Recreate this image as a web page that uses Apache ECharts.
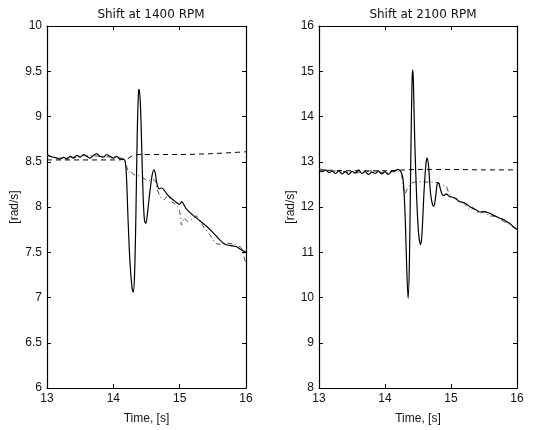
<!DOCTYPE html>
<html><head><meta charset="utf-8">
<script src="https://cdn.jsdelivr.net/npm/echarts@6/dist/echarts.min.js"></script>
<style>html,body{margin:0;padding:0;background:#fff}#c{width:533px;height:430px}</style>
</head><body><div id="c"></div>
<script>
// ---- data (time [s], speed [rad/s]) ----
const titles = ['Shift at 1400 RPM', 'Shift at 2100 RPM'];
const xTicks = [13, 14, 15, 16];
const leftYRange = [6, 10, 0.5];
const rightYRange = [8, 16, 1];

const leftSolid = [
 [13.00,8.58],[13.05,8.56],[13.10,8.55],[13.15,8.54],[13.20,8.53],[13.25,8.55],[13.30,8.53],[13.35,8.56],
 [13.40,8.54],[13.45,8.57],[13.50,8.55],[13.55,8.58],[13.60,8.56],[13.65,8.54],[13.70,8.57],[13.75,8.59],
 [13.80,8.56],[13.85,8.55],[13.90,8.58],[13.95,8.56],[14.00,8.54],[14.05,8.56],[14.10,8.53],[14.15,8.53],
 [14.18,8.50],[14.20,8.30],[14.22,7.90],[14.25,7.40],[14.28,7.12],[14.30,7.06],[14.32,7.25],[14.34,7.90],
 [14.36,8.80],[14.38,9.28],[14.39,9.30],[14.41,9.10],[14.43,8.60],[14.45,8.10],[14.47,7.85],[14.49,7.82],
 [14.51,7.90],[14.54,8.10],[14.58,8.33],[14.61,8.41],[14.63,8.38],[14.66,8.25],[14.69,8.20],[14.72,8.21],
 [14.75,8.20],[14.80,8.15],[14.85,8.11],[14.90,8.08],[14.95,8.05],[15.00,8.03],[15.03,8.06],[15.06,8.03],
 [15.10,7.98],[15.20,7.91],[15.30,7.85],[15.40,7.79],[15.50,7.72],[15.60,7.64],[15.66,7.60],[15.72,7.58],
 [15.80,7.57],[15.86,7.56],[15.92,7.53],[16.00,7.50]
];
const leftDashed = [
 [13.00,8.52],[13.50,8.52],[14.00,8.52],[14.20,8.53],[14.30,8.57],[14.40,8.58],[15.00,8.58],[15.50,8.59],[16.00,8.61]
];
const leftDashDot = [
 [13.00,8.57],[13.20,8.54],[13.40,8.55],[13.60,8.57],[13.80,8.56],[14.00,8.55],[14.15,8.53],[14.20,8.45],
 [14.23,8.38],[14.26,8.40],[14.30,8.36],[14.40,8.34],[14.50,8.30],[14.55,8.29],[14.62,8.30],[14.66,8.20],
 [14.72,8.10],[14.76,8.08],[14.82,8.12],[14.88,8.06],[14.95,8.02],[15.00,7.95],[15.03,7.80],[15.07,7.88],
 [15.12,7.84],[15.18,7.86],[15.25,7.90],[15.30,7.85],[15.38,7.76],[15.45,7.70],[15.52,7.62],[15.58,7.59],
 [15.65,7.59],[15.72,7.60],[15.80,7.59],[15.88,7.57],[15.93,7.55],[15.97,7.45],[16.00,7.37]
];

const rightSolid = [
 [13.00,12.80],[13.05,12.78],[13.10,12.82],[13.15,12.76],[13.20,12.79],[13.25,12.74],[13.30,12.80],[13.35,12.73],
 [13.40,12.78],[13.45,12.72],[13.50,12.79],[13.55,12.75],[13.60,12.82],[13.65,12.74],[13.70,12.78],[13.75,12.72],
 [13.80,12.77],[13.85,12.74],[13.90,12.80],[13.95,12.73],[14.00,12.78],[14.05,12.72],[14.10,12.79],[14.15,12.80],
 [14.20,12.83],[14.24,12.78],[14.27,12.65],[14.29,12.30],[14.31,11.60],[14.33,10.60],[14.35,9.98],[14.37,10.80],
 [14.39,13.00],[14.41,14.80],[14.42,15.03],[14.43,14.80],[14.45,13.50],[14.48,12.20],[14.51,11.40],[14.54,11.17],
 [14.56,11.40],[14.59,12.30],[14.62,12.95],[14.64,13.08],[14.66,12.90],[14.69,12.30],[14.72,12.05],[14.74,12.02],
 [14.76,12.15],[14.79,12.50],[14.81,12.54],[14.83,12.45],[14.86,12.30],[14.89,12.25],[14.93,12.29],[14.97,12.24],
 [15.03,12.21],[15.08,12.18],[15.12,12.12],[15.19,12.10],[15.24,12.06],[15.29,12.00],[15.33,11.97],[15.38,11.94],
 [15.44,11.89],[15.50,11.90],[15.55,11.88],[15.59,11.86],[15.64,11.82],[15.70,11.78],[15.74,11.75],[15.80,11.72],
 [15.86,11.66],[15.89,11.64],[15.94,11.57],[16.00,11.50]
];
const rightDashed = [
 [13.00,12.82],[13.50,12.80],[14.00,12.80],[14.30,12.82],[14.50,12.83],[15.00,12.83],[15.50,12.82],[16.00,12.82]
];
const rightDashDot = [
 [13.00,12.84],[13.20,12.80],[13.40,12.78],[13.60,12.76],[13.80,12.80],[14.00,12.75],[14.10,12.78],[14.20,12.78],
 [14.25,12.70],[14.28,12.40],[14.30,12.25],[14.32,12.35],[14.36,12.45],[14.40,12.52],[14.45,12.55],[14.55,12.56],
 [14.65,12.55],[14.75,12.55],[14.82,12.52],[14.88,12.48],[14.93,12.45],[14.97,12.30],[15.03,12.22],[15.10,12.15],
 [15.20,12.08],[15.27,11.95],[15.32,12.00],[15.38,11.90],[15.45,11.87],[15.52,11.90],[15.58,11.80],[15.65,11.80],
 [15.72,11.76],[15.80,11.68],[15.88,11.62],[15.95,11.55],[16.00,11.52]
];

// ---- chart ----
const FONT = 'Liberation Sans';
const axisLine = {show: true, onZero: false, lineStyle: {color: '#000', width: 1.2}};
const tickIn = {show: true, inside: true, length: 4, lineStyle: {color: '#000', width: 1}};
const labelStyle = {color: '#111', fontSize: 12, fontFamily: FONT};

const grids = [
  {left: 47, right: 287, top: 26, bottom: 33},
  {left: 319, right: 16, top: 26, bottom: 33}
];
const xAxes = [], yAxes = [];
[0, 1].forEach(g => {
  const xr = {min: xTicks[0], max: xTicks[xTicks.length - 1], interval: xTicks[1] - xTicks[0]};
  xAxes.push(Object.assign({type: 'value', gridIndex: g, position: 'bottom', axisLine, axisTick: tickIn,
    splitLine: {show: false}, axisLabel: Object.assign({margin: 5}, labelStyle),
    name: 'Time, [s]', nameLocation: 'middle', nameGap: 25,
    nameTextStyle: {color: '#111', fontSize: 12, fontFamily: FONT}}, xr));
  xAxes.push(Object.assign({type: 'value', gridIndex: g, position: 'top', axisLine, axisTick: tickIn,
    splitLine: {show: false}, axisLabel: {show: false}}, xr));
  const yr = g === 0 ? leftYRange : rightYRange;
  const yrange = {min: yr[0], max: yr[1], interval: yr[2]};
  yAxes.push(Object.assign({type: 'value', gridIndex: g, position: 'left', axisLine, axisTick: tickIn,
    splitLine: {show: false}, axisLabel: Object.assign({margin: 5}, labelStyle),
    name: '[rad/s]', nameLocation: 'middle', nameGap: g === 0 ? 26 : 16, nameRotate: 90,
    nameTextStyle: {color: '#111', fontSize: 12, fontFamily: FONT}}, yrange));
  yAxes.push(Object.assign({type: 'value', gridIndex: g, position: 'right', axisLine, axisTick: tickIn,
    splitLine: {show: false}, axisLabel: {show: false}}, yrange));
});

function line(data, g, style) {
  return {type: 'line', data, xAxisIndex: g * 2, yAxisIndex: g * 2, showSymbol: false, symbol: 'none',
    smooth: 0.3, lineStyle: style, animation: false, silent: true};
}
const solid = {color: '#000', width: 1.2};
const dashed = {color: '#000', width: 1, type: [5, 4]};
const dashDot = {color: '#444', width: 1, type: [5, 3, 1, 3]};

const chart = echarts.init(document.getElementById('c'), null, {renderer: 'canvas'});
const titleStyle = {fontSize: 12, fontWeight: 'normal', color: '#111', fontFamily: 'DejaVu Sans'};
chart.setOption({
  animation: false,
  backgroundColor: '#fff',
  title: [
    {text: titles[0], left: 146, top: 4, textAlign: 'center', textStyle: titleStyle},
    {text: titles[1], left: 418, top: 4, textAlign: 'center', textStyle: titleStyle}
  ],
  grid: grids,
  xAxis: xAxes,
  yAxis: yAxes,
  series: [
    line(leftDashed, 0, dashed),
    line(leftDashDot, 0, dashDot),
    line(leftSolid, 0, solid),
    line(rightDashed, 1, dashed),
    line(rightDashDot, 1, dashDot),
    line(rightSolid, 1, solid)
  ]
});
</script></body></html>
